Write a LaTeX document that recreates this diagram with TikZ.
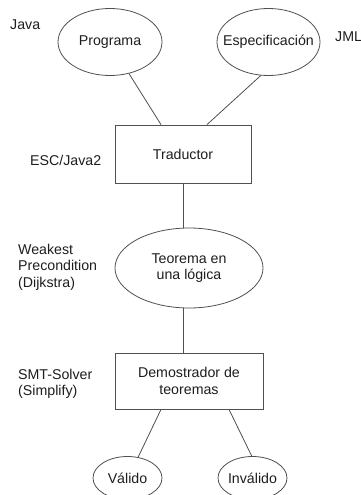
\documentclass[tikz,border=0pt]{standalone}
\usepackage{fontspec}
\setmainfont{Liberation Sans}
\usetikzlibrary{shapes.geometric}
\definecolor{ink}{HTML}{1E1E1E}
\definecolor{edge}{HTML}{505050}
\tikzset{
  every node/.style={text=ink, font=\fontsize{14.2}{16.5}\selectfont},
  oval/.style={ellipse, draw=edge, line width=0.8pt, inner sep=0pt, align=center},
  block/.style={rectangle, draw=edge, line width=0.8pt, inner sep=0pt, align=center},
  side/.style={align=left, anchor=west, inner sep=0pt},
  link/.style={draw=edge, line width=0.8pt}
}
\begin{document}
\begin{tikzpicture}[x=1pt, y=-1pt]
  \useasboundingbox[fill=white] (0,0) rectangle (361,495);

  % inputs (the wide label is boxed at zero width so the oval keeps its size)
  \node[oval, minimum width=104pt, minimum height=67pt] (prog) at (110,42) {Programa};
  \node[oval, minimum width=103pt, minimum height=67pt] (spec) at (268.5,42) {\makebox[0pt]{Especificación}};

  % pipeline
  \node[block, minimum width=136pt, minimum height=58pt] (trad) at (183,154) {Traductor};
  \node[oval, minimum width=148pt, minimum height=80pt] (teo) at (189,268) {Teorema en\\una lógica};
  \node[block, minimum width=148pt, minimum height=56pt] (dem) at (189,381) {Demostrador de\\teoremas};

  % results
  \node[oval, minimum width=69pt, minimum height=43pt] (val) at (127.5,478) {Válido};
  \node[oval, minimum width=69pt, minimum height=43pt] (inv) at (252.5,478) {\makebox[0pt]{Inválido}};

  % tool annotations
  \node[side] (java) at (10,25) {Java};
  \node[side] (jml) at (335,37) {JML};
  \node[side] (esc) at (30,160) {ESC/Java2};
  \node[side] (wp) at (18,267) {Weakest\\Precondition\\(Dijkstra)};
  \node[side] (smt) at (18,384) {SMT-Solver\\(Simplify)};

  % connectors
  \draw[link] (prog.-59) -- ([xshift=-22pt]trad.north);
  \draw[link] (spec.-103) -- ([xshift=24pt]trad.north);
  \draw[link] (trad.south) -- (trad.south |- teo.north);
  \draw[link] (trad.south |- teo.south) -- (trad.south |- dem.north);
  \draw[link] ([xshift=-28pt]dem.south) -- (val.63);
  \draw[link] ([xshift=40pt]dem.south) -- (inv.92);
\end{tikzpicture}
\end{document}
